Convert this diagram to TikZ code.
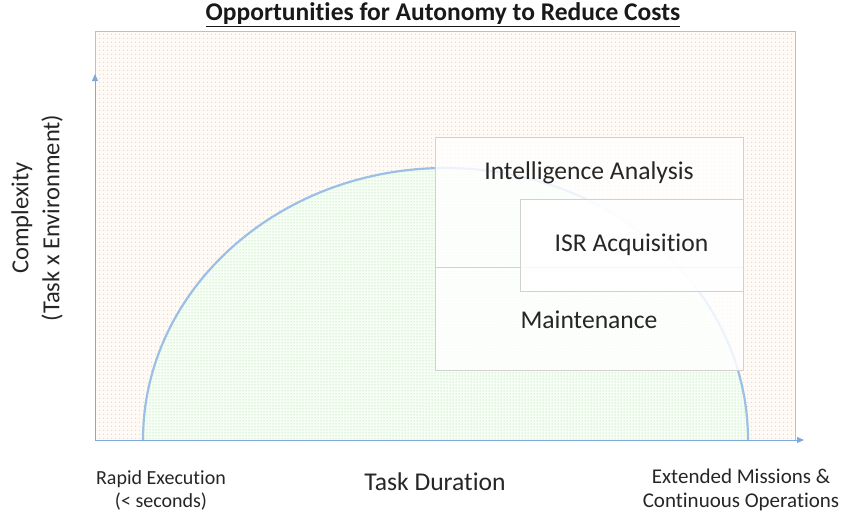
\documentclass[tikz,border=0pt]{standalone}
\usepackage{fontspec}
\setmainfont[Ligatures=NoCommon]{Carlito}
\usetikzlibrary{arrows.meta,patterns.meta}
\definecolor{axisblue}{HTML}{7FA9DB}
\definecolor{arcblue}{HTML}{9CBFE6}
\definecolor{dotpink}{HTML}{E9B8A0}
\definecolor{dotgreen}{HTML}{A9CC8F}
\begin{document}
\begin{tikzpicture}[x=1pt,y=-1pt,
  lbl/.style={font=\fontsize{25.6}{28}\selectfont, text=black!85},
  small/.style={font=\fontsize{20}{23}\selectfont, text=black!85, align=center},
  axis/.style={draw=axisblue, line width=1pt, -{Triangle[length=7pt,width=6pt]}},
  overlay box/.style={draw=black!18, line width=0.8pt, fill=white, fill opacity=0.82}
]
\useasboundingbox (0,0) rectangle (847,514);
% background region
\fill[white] (95,31) rectangle (795,440);
\fill[orange!4] (95,31) rectangle (795,440);
\fill[pattern={Dots[distance=4pt,radius=0.55pt]}, pattern color=dotpink] (95,31) rectangle (795,440);
\draw[black!25, line width=0.8pt] (95,31) rectangle (795,440);
% semicircle region
\fill[white] (143,440) arc[start angle=180, end angle=360, x radius=302.5, y radius=272] -- cycle;
\fill[green!4] (143,440) arc[start angle=180, end angle=360, x radius=302.5, y radius=272] -- cycle;
\fill[pattern={Dots[distance=3pt,radius=0.5pt]}, pattern color=dotgreen] (143,440) arc[start angle=180, end angle=360, x radius=302.5, y radius=272] -- cycle;
\draw[arcblue, line width=2.2pt] (143,440) arc[start angle=180, end angle=360, x radius=302.5, y radius=272];
% axes
\coordinate (origin) at (95,440);
\coordinate (ytip) at (95,74);
\coordinate (xtip) at (804,440);
\draw[axis] (origin) -- (ytip);
\draw[axis] (origin) -- (xtip);
% boxes
\draw[overlay box] (435,137) rectangle (743,267);
\draw[overlay box] (435,267) rectangle (743,370);
\draw[overlay box] (520,199) rectangle (743,291);
\node[lbl] (ia) at (589,173) {Intelligence Analysis};
\node[lbl] (isr) at (631.5,245) {ISR Acquisition};
\node[lbl] (mt) at (589,320) {Maintenance};
% title
\node[font=\bfseries\fontsize{25.5}{28}\selectfont, text=black!90] (title) at (443,15) {\underline{Opportunities for Autonomy to Reduce Costs}};
% axis labels
\node[lbl, rotate=90, align=center, font=\fontsize{24.5}{31}\selectfont] (ylab) at (37,218) {Complexity\\(Task x Environment)};
\node[lbl] (xlab) at (435,482) {Task Duration};
\node[small] (rapid) at (161,490) {Rapid Execution\\(< seconds)};
\node[small, font=\fontsize{21}{23.5}\selectfont] (ext) at (741,490) {Extended Missions \&\\Continuous Operations};
\end{tikzpicture}
\end{document}
